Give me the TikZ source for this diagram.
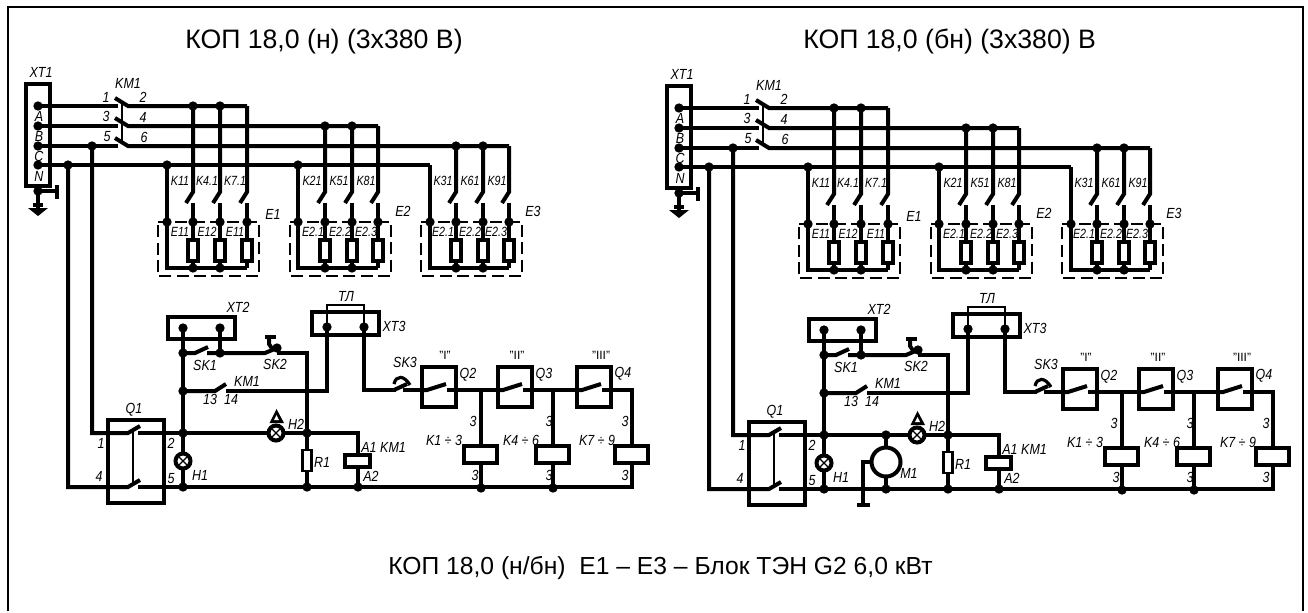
\documentclass[tikz,border=0pt]{standalone}
\usepackage{fontspec}
\setmainfont{Liberation Sans}
\begin{document}
\begin{tikzpicture}[x=0.75pt,y=-0.75pt,
 wire/.style={line width=3pt},
 box/.style={line width=3pt},
 thinw/.style={line width=1pt},
 dashb/.style={line width=1.9pt,dash pattern=on 9pt off 4pt},
 lab/.style={font=\fontsize{11}{13}\selectfont\itshape,inner sep=0pt,xscale=.85,transform shape},
 small/.style={font=\fontsize{10}{12}\selectfont\itshape,inner sep=0pt,xscale=.8,transform shape},
 quot/.style={font=\fontsize{9}{11}\selectfont,inner sep=0pt},
 title/.style={font=\fontsize{20}{24}\selectfont,inner sep=0pt,anchor=base west},
 jd/.style={circle,fill=black,inner sep=0pt,minimum size=7pt}
]
\newcommand{\jn}[2]{\node[jd] at (#1,#2) {};}
\newcommand{\column}[2]{% x, top y
 \draw[wire] (#1,#2) -- (#1,192) -- ++(-7,11);
 \draw[wire] (#1,203) -- (#1,268);
 \draw[box,fill=white] (#1-5,240) rectangle (#1+5,261);
 \jn{#1}{222}
}
\newcommand{\ebank}[7]{% dashed l, n-x, c1, c2, c3, n-top, bus
 \draw[dashb] (#1,222) -- (#1+101,222) -- (#1+101,276) -- (#1,276) -- cycle;
 \draw[wire] (#2,#6) -- (#2,268) -- (#5,268);
 \column{#3}{#7}\column{#4}{#7}\column{#5}{#7}
 \jn{#2}{222}\jn{#3}{268}\jn{#4}{268}
}
\newcommand{\relay}[1]{%
 \draw[box,fill=white] (#1-17,446) rectangle (#1+16,463);
}
\newcommand{\qbox}[1]{%
 \draw[box,fill=white] (#1,367) rectangle (#1+34,407);
 \draw[wire] (#1-1,390) -- (#1+5,390) -- (#1+24,384);
 \draw[wire] (#1+25,390) -- (#1+35,390);
}
\newcommand{\lamp}[2]{%
 \draw[box,fill=white] (#1,#2) circle (7.5);
 \draw[line width=1pt] (#1-4,#2-4) -- (#1+4,#2+4) (#1-4,#2+4) -- (#1+4,#2-4);
}
\newcommand{\schem}[3]{%
\begin{scope}[shift={(#1,#2)}]
 % XT1
 \draw[box] (26,84) rectangle (50,186);
 \node[lab] at (41,72) {XT1};
 \foreach \y in {106,126,146,165}{\jn{38}{\y}}
 \node[lab] at (39,116) {A}; \node[lab] at (39,136) {B}; \node[lab] at (39,156) {C}; \node[lab] at (39,176) {N};
 % KM1 power contacts
 \draw[wire] (38,106) -- (118,106);
 \draw[wire] (38,126) -- (118,126);
 \draw[wire] (38,146) -- (118,146);
 \draw[wire] (115,98) -- (128,106) -- (247,106);
 \draw[wire] (115,118) -- (128,126) -- (378,126);
 \draw[wire] (115,138) -- (128,146) -- (509,146);
 \draw[line width=1.6pt] (122,102) -- (122,142);
 \draw[wire] (38,165) -- (430,165);
 \node[lab] at (128,83) {KM1};
 \node[lab] at (106,97) {1}; \node[lab] at (143,97) {2};
 \node[lab] at (106,116) {3}; \node[lab] at (143,117) {4};
 \node[lab] at (107,137) {5}; \node[lab] at (144,137) {6};
 % earth
 \draw[wire] (38,186) -- (38,208);
 \draw[wire] (38,191) -- (57,191); \draw[wire] (57,185) -- (57,199);
 \draw[wire] (33,205) -- (43,205);
 \fill (28,208) -- (48,208) -- (38,216) -- cycle;
 \jn{38}{191}
 % Heater banks
 \ebank{158}{167}{193}{220}{247}{165}{106}
 \ebank{290}{298}{325}{352}{378}{165}{126}
 \ebank{421}{430}{456}{483}{509}{165}{146}
 \foreach \x/\y in {193/106,220/106,325/126,352/126,456/146,483/146,167/165,298/165}{\jn{\x}{\y}}
 \foreach \x/\t in {180/K11,207/K4.1,235/K7.1,312/K21,339/K51,366/K81,443/K31,470/K61,497/K91}{\node[small] at (\x,181) {\t};}
 \foreach \x/\t in {180/E11,207/E12,235/E11,313/E2.1,340/E2.2,366/E2.3,443/E2.1,470/E2.2,496/E2.3}{\node[small] at (\x,232) {\t};}
 \node[lab] at (273,214) {E1}; \node[lab] at (403,211) {E2}; \node[lab] at (533,211) {E3};
 % long leads
 \jn{68}{165}\jn{92}{146}
 \draw[wire] (68,165) -- (68,487) -- (128,487) -- (140,480);
 \draw[wire] (92,146) -- (92,433) -- (128,433) -- (140,426);
 \draw[wire] (138,433) -- (358,433) -- (358,487);
 \draw[wire] (138,487) -- (632,487) -- (632,390) -- (610,390);
 \draw[line width=1.6pt] (133,431) -- (133,484);
 % Q1
 \draw[box] (108,420) rectangle (164,503);
 \node[lab] at (134,410) {Q1};
 \node[lab] at (101,443) {1}; \node[lab] at (171,443) {2}; \node[lab] at (99,476) {4}; \node[lab] at (171,479) {5};
 % XT2
 \draw[box] (168,317) rectangle (235,339);
 \node[lab] at (238,307) {XT2};
 \draw[wire] (183,328) -- (183,487);
 \draw[wire] (220,328) -- (220,353);
 \foreach \x/\y in {183/328,220/328,183/353,220/353,183/391,183/433,307/433,183/487,307/487,358/487,481/488,553/488}{\jn{\x}{\y}}
 \draw[wire] (183,353) -- (195,353) -- (208,347);
 \draw[wire] (207,353) -- (265,353) -- (277,348);
 \draw[wire] (277,353) -- (307,353) -- (307,487);
 \node[lab] at (205,365) {SK1};
 \node[lab] at (275,364) {SK2};
 \draw[wire] (265,337) -- (276,337);
 \draw[wire] (269,337) -- (269,344) -- (273,350);
 \jn{277}{348}
 % KM1 aux
 \draw[wire] (183,391) -- (215,391) -- (226,384);
 \draw[wire] (226,391) -- (327,391) -- (327,328);
 \node[lab] at (247,381) {KM1};
 \node[lab] at (210,399) {13}; \node[lab] at (231,399) {14};
 % XT3
 \draw[box] (312,312) rectangle (379,335);
 \jn{327}{327}\jn{364}{327}
 \draw[thinw] (327,327) -- (327,305) -- (364,305) -- (364,327);
 \node[lab] at (346,296) {ТЛ};
 \node[lab] at (394,326) {XT3};
 \draw[wire] (364,327) -- (364,390) -- (396,390);
 % SK3
 \draw[wire] (394,390) -- (407,384);
 \draw[line width=2.4pt] (394,384) .. controls (396,375) and (404,375) .. (410,385);
 \node[lab] at (405,362) {SK3};
 \draw[wire] (403,390) -- (422,390);
 % Q
 \qbox{422}\qbox{498}\qbox{577}
 \draw[wire] (456,390) -- (498,390);
 \draw[wire] (532,390) -- (577,390);
 \draw[wire] (481,390) -- (481,487);
 \draw[wire] (553,390) -- (553,487);
 \relay{481}\relay{553}\relay{632}
 \node[quot] at (445,355) {"I"};
 \node[quot] at (517,355) {"II"};
 \node[quot] at (601,355) {"III"};
 \node[lab] at (468,375) {Q2}; \node[lab] at (544,375) {Q3}; \node[lab] at (623,374) {Q4};
 \foreach \x/\y in {473/421,549/421,625/421,475/475,549/475,625/475}{\node[lab] at (\x,\y) {3};}
 \node[lab] at (444,440) {K1 ÷ 3}; \node[lab] at (521,440) {K4 ÷ 6}; \node[lab] at (597,440) {K7 ÷ 9};
 % lamps
 \lamp{183}{461}
 \node[lab] at (200,475) {H1};
 \lamp{276}{433}
 \fill (276.5,409) -- (269.5,423) -- (284,423) -- cycle;
 \fill[white] (276.5,415) -- (274,420) -- (279,420) -- cycle;
 \node[lab] at (296,424) {H2};
 % R1, coil
 \draw[line width=2.2pt,fill=white] (302.5,450) rectangle (311.5,471);
 \node[lab] at (322,462) {R1};
 \draw[box,fill=white] (345,455) rectangle (370,467);
 \node[lab] at (369,447) {A1};
 \node[lab] at (371,476) {A2};
 \node[lab] at (393,447) {KM1};
 #3
\end{scope}
}
\fill[white] (0,0) rectangle (1308,611);
\draw[line width=1.5pt] (7.5,611) -- (7.5,6.5) -- (1303,6.5) -- (1303,611);
\schem{0}{0}{}
\schem{641}{2}{%
 \draw[wire] (245,433) -- (245,487);
 \jn{245}{433}\jn{245}{487}
 \draw[box,fill=white] (245,460) circle (14.5);
 \draw[wire] (231,460) -- (222,460) -- (222,503);
 \draw[wire] (216,503) -- (229,503);
 \node[lab] at (268,471) {M1};
}
\node[title] (t1) at (185,48) {КОП 18,0 (н) (3х380 В)};
\node[title] (t2) at (803,48) {КОП 18,0 (бн) (3х380) В};
\node[title,font=\fontsize{18.5}{22}\selectfont] (t3) at (388,574) {КОП 18,0 (н/бн)\ \ Е1 – Е3 – Блок ТЭН G2 6,0 кВт};
\end{tikzpicture}
\end{document}
